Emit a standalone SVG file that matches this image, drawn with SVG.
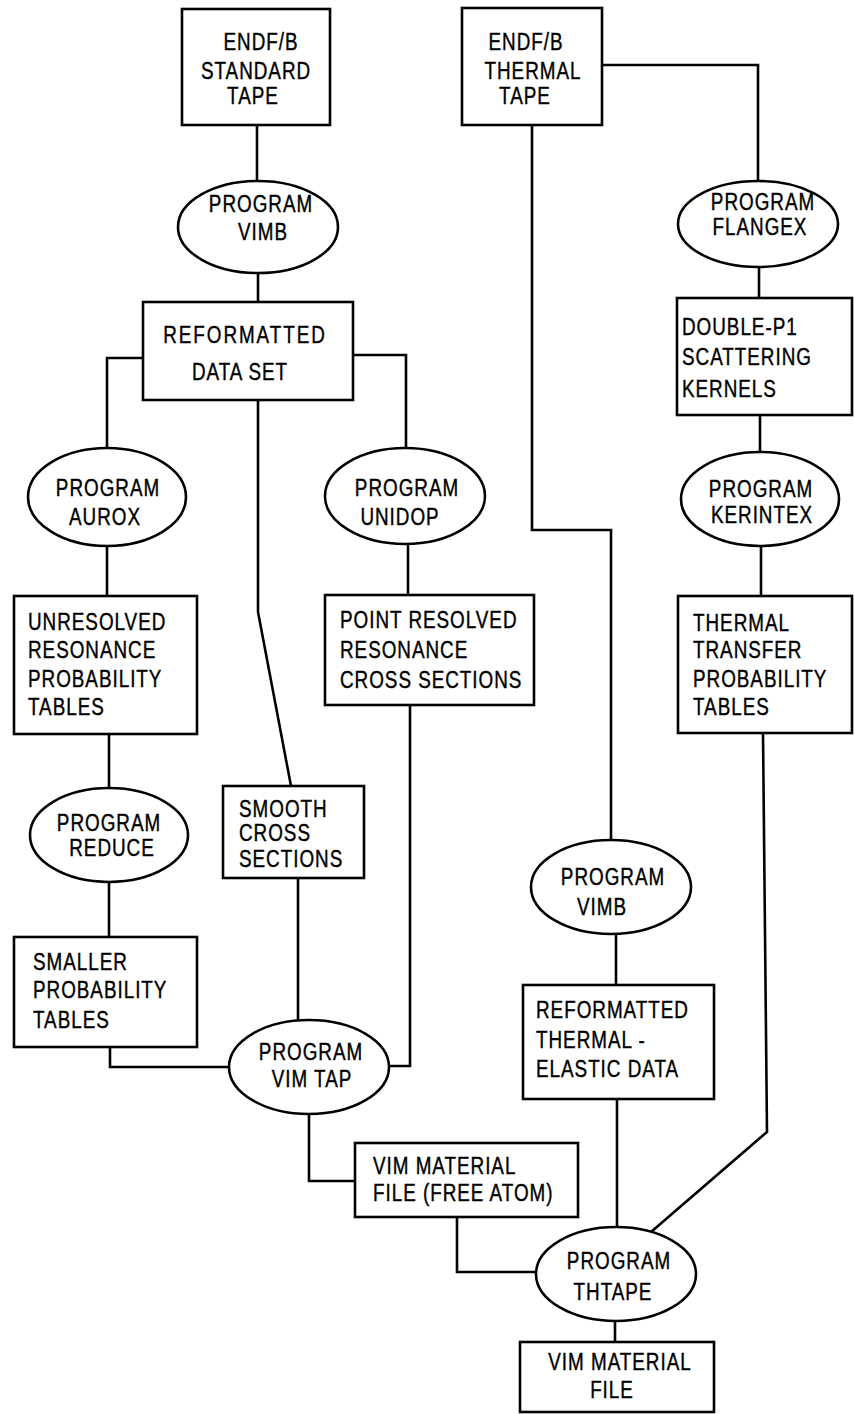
<svg xmlns="http://www.w3.org/2000/svg" width="854" height="1414" viewBox="0 0 854 1414">
<style>
.n rect,.n ellipse{fill:#fff;stroke:#000;stroke-width:2.6}
.c path{fill:none;stroke:#000;stroke-width:2.6;stroke-linejoin:miter}
text{font-family:"Liberation Sans",Arial,sans-serif;font-size:23px;letter-spacing:1.2px;fill:#000;stroke:#000;stroke-width:0.4}
.m{text-anchor:middle}
</style>
<rect width="854" height="1414" fill="#fff"/>
<g id="connectors" class="c">
<path d="M257 125V180"/>
<path d="M258 273V302"/>
<path d="M143 358H107V448"/>
<path d="M353 355H406V448"/>
<path d="M258 400V612L291 786"/>
<path d="M532 125V530H611V840"/>
<path d="M602 65H758V182"/>
<path d="M759 267V298"/>
<path d="M760 415V452"/>
<path d="M107 546V596"/>
<path d="M109 734V788"/>
<path d="M109 882V937"/>
<path d="M408 544V595"/>
<path d="M761 546V596"/>
<path d="M110 1047V1067H229"/>
<path d="M298 878V1020"/>
<path d="M410 705V1066H390"/>
<path d="M309 1113V1181H355"/>
<path d="M457 1217V1272H537"/>
<path d="M616 934V985"/>
<path d="M617 1099V1227"/>
<path d="M763 733L767 1132L651 1232"/>
<path d="M615 1321V1342"/>
</g>
<g id="endf-standard" class="n"><rect x="182" y="9" width="148" height="116"/>
<text class="m" transform="translate(261 50) scale(.82 1)">ENDF/B</text><text class="m" transform="translate(256 79) scale(.82 1)">STANDARD</text><text class="m" transform="translate(253 104) scale(.82 1)">TAPE</text></g>
<g id="vimb1" class="n"><ellipse cx="258" cy="227" rx="80" ry="46"/>
<text class="m" transform="translate(261 212) scale(.82 1)">PROGRAM</text><text class="m" transform="translate(263 240) scale(.82 1)">VIMB</text></g>
<g id="endf-thermal" class="n"><rect x="462" y="8" width="140" height="117"/>
<text class="m" transform="translate(526 50) scale(.82 1)">ENDF/B</text><text class="m" transform="translate(533 79) scale(.82 1)">THERMAL</text><text class="m" transform="translate(525 104) scale(.82 1)">TAPE</text></g>
<g id="flangex" class="n"><ellipse cx="758" cy="224" rx="80" ry="43"/>
<text class="m" transform="translate(763 210) scale(.82 1)">PROGRAM</text><text class="m" transform="translate(760 235) scale(.82 1)">FLANGEX</text></g>
<g id="reformatted" class="n"><rect x="143" y="302" width="210" height="98"/>
<text class="m" transform="translate(245 343) scale(.82 1)" style="letter-spacing:2.4px">REFORMATTED</text><text class="m" transform="translate(240 380) scale(.82 1)">DATA  SET</text></g>
<g id="double-p1" class="n"><rect x="677" y="298" width="175" height="117"/>
<text transform="translate(682 335) scale(.82 1)">DOUBLE-P1</text><text transform="translate(682 365) scale(.82 1)">SCATTERING</text><text transform="translate(682 397) scale(.82 1)">KERNELS</text></g>
<g id="aurox" class="n"><ellipse cx="107" cy="497" rx="79" ry="49"/>
<text class="m" transform="translate(108 496) scale(.82 1)">PROGRAM</text><text class="m" transform="translate(105 525) scale(.82 1)">AUROX</text></g>
<g id="unidop" class="n"><ellipse cx="405" cy="496" rx="80" ry="48"/>
<text class="m" transform="translate(407 496) scale(.82 1)">PROGRAM</text><text class="m" transform="translate(400 525) scale(.82 1)">UNIDOP</text></g>
<g id="kerintex" class="n"><ellipse cx="760" cy="499" rx="79" ry="47"/>
<text class="m" transform="translate(761 497) scale(.82 1)">PROGRAM</text><text class="m" transform="translate(762 523) scale(.82 1)">KERINTEX</text></g>
<g id="unresolved" class="n"><rect x="14" y="596" width="183" height="138"/>
<text transform="translate(28 630) scale(.82 1)">UNRESOLVED</text><text transform="translate(28 658) scale(.82 1)">RESONANCE</text><text transform="translate(28 687) scale(.82 1)">PROBABILITY</text><text transform="translate(28 715) scale(.82 1)">TABLES</text></g>
<g id="point-resolved" class="n"><rect x="325" y="595" width="209" height="110"/>
<text transform="translate(340 628) scale(.82 1)">POINT RESOLVED</text><text transform="translate(340 658) scale(.82 1)">RESONANCE</text><text transform="translate(340 688) scale(.82 1)">CROSS SECTIONS</text></g>
<g id="thermal-transfer" class="n"><rect x="678" y="596" width="174" height="137"/>
<text transform="translate(693 631) scale(.82 1)">THERMAL</text><text transform="translate(693 658) scale(.82 1)">TRANSFER</text><text transform="translate(693 687) scale(.82 1)">PROBABILITY</text><text transform="translate(693 715) scale(.82 1)">TABLES</text></g>
<g id="reduce" class="n"><ellipse cx="109" cy="835" rx="79" ry="47"/>
<text class="m" transform="translate(109 831) scale(.82 1)">PROGRAM</text><text class="m" transform="translate(112 856) scale(.82 1)">REDUCE</text></g>
<g id="smooth" class="n"><rect x="223" y="786" width="141" height="92"/>
<text transform="translate(239 817) scale(.82 1)">SMOOTH</text><text transform="translate(239 841) scale(.82 1)">CROSS</text><text transform="translate(239 867) scale(.82 1)">SECTIONS</text></g>
<g id="vimb2" class="n"><ellipse cx="611" cy="887" rx="80" ry="47"/>
<text class="m" transform="translate(613 885) scale(.82 1)">PROGRAM</text><text class="m" transform="translate(602 915) scale(.82 1)">VIMB</text></g>
<g id="smaller" class="n"><rect x="14" y="937" width="183" height="110"/>
<text transform="translate(33 970) scale(.82 1)">SMALLER</text><text transform="translate(33 998) scale(.82 1)">PROBABILITY</text><text transform="translate(33 1028) scale(.82 1)">TABLES</text></g>
<g id="vimtap" class="n"><ellipse cx="309" cy="1067" rx="80" ry="47"/>
<text class="m" transform="translate(311 1060) scale(.82 1)">PROGRAM</text><text class="m" transform="translate(312 1087) scale(.82 1)">VIM  TAP</text></g>
<g id="reformatted-thermal" class="n"><rect x="523" y="985" width="191" height="114"/>
<text transform="translate(536 1018) scale(.82 1)">REFORMATTED</text><text transform="translate(536 1048) scale(.82 1)">THERMAL -</text><text transform="translate(536 1077) scale(.82 1)">ELASTIC DATA</text></g>
<g id="vim-free-atom" class="n"><rect x="355" y="1143" width="223" height="74"/>
<text transform="translate(373 1174) scale(.82 1)">VIM  MATERIAL</text><text transform="translate(373 1201) scale(.82 1)">FILE (FREE ATOM)</text></g>
<g id="thtape" class="n"><ellipse cx="616" cy="1274" rx="80" ry="47"/>
<text class="m" transform="translate(619 1269) scale(.82 1)">PROGRAM</text><text class="m" transform="translate(613 1300) scale(.82 1)">THTAPE</text></g>
<g id="vim-material" class="n"><rect x="520" y="1342" width="194" height="70"/>
<text class="m" transform="translate(620 1370) scale(.82 1)">VIM  MATERIAL</text><text class="m" transform="translate(612 1398) scale(.82 1)">FILE</text></g>
</svg>
